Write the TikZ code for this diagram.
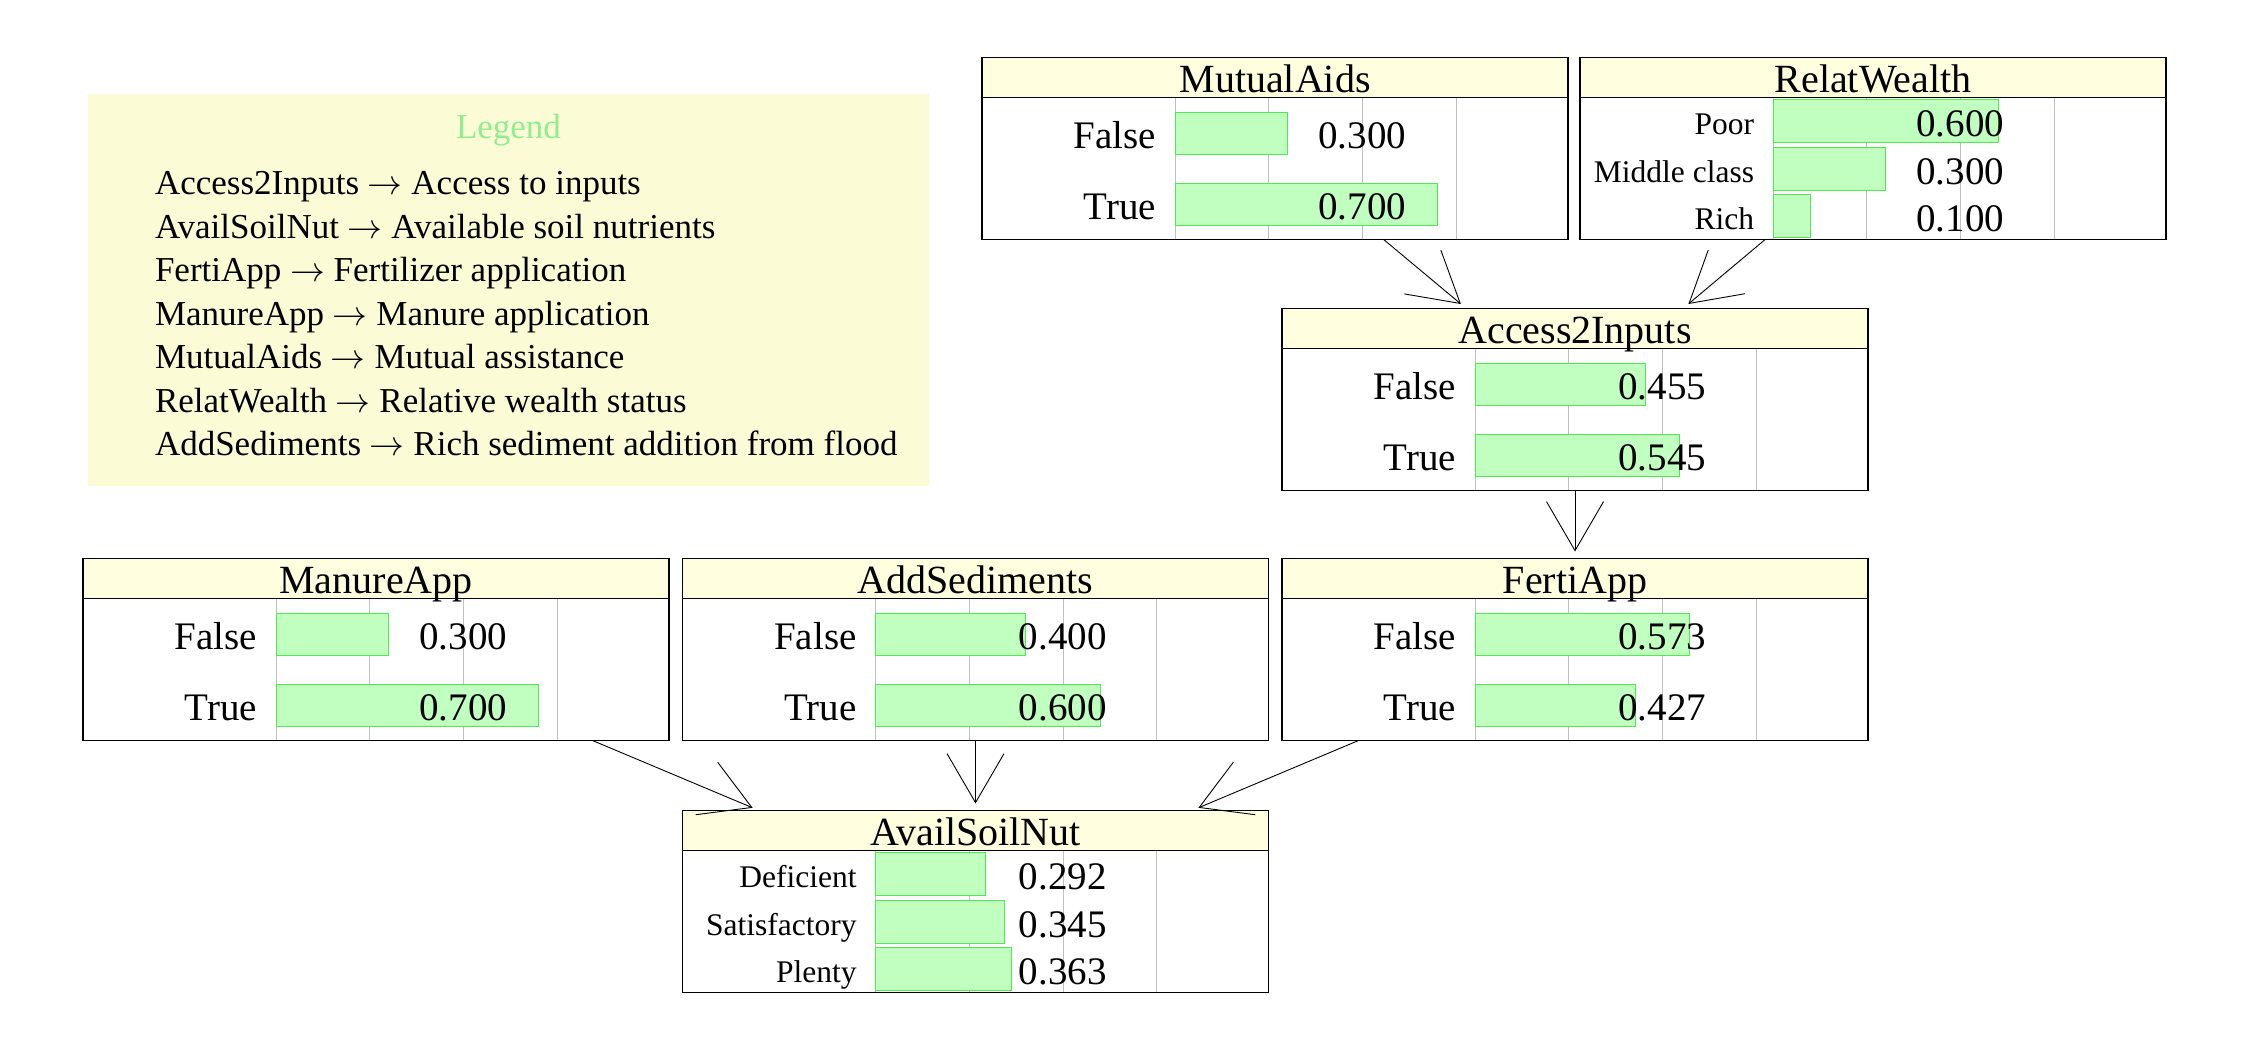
\documentclass[tikz,border=0pt]{standalone}
\usepackage{fontspec}
\usepackage{graphicx}
\setmainfont{Liberation Serif}
\usetikzlibrary{arrows.meta}
\definecolor{headfill}{RGB}{255,255,224}
\definecolor{legfill}{RGB}{251,251,214}
\definecolor{legtitle}{RGB}{144,238,144}
\definecolor{barfill}{RGB}{192,255,192}
\definecolor{barline}{RGB}{80,235,80}
\definecolor{gridc}{RGB}{192,192,192}
\newcommand{\legarrow}{\scalebox{1.4}{\fontsize{24.88}{24.88}\selectfont$\rightarrow$}}
\tikzset{
  every node/.style={inner sep=0pt, outer sep=0pt},
  boxshape/.style={rectangle, minimum width=586pt, minimum height=182pt},
  headbg/.style={fill=headfill},
  gridline/.style={draw=gridc, line width=1pt},
  boxline/.style={draw=black, line width=1.3pt},
  barbox/.style={fill=barfill, draw=barline, line width=1pt},
  titletext/.style={anchor=base, font=\fontsize{40}{40}\selectfont},
  bigtext/.style={anchor=base east, font=\fontsize{39}{39}\selectfont},
  smalltext/.style={anchor=base east, font=\fontsize{31.5}{31.5}\selectfont},
  valtext/.style={anchor=base east, font=\fontsize{39}{39}\selectfont},
  legtext/.style={anchor=base west, font=\fontsize{35}{35}\selectfont},
  conn/.style={line width=0.9pt, -{Straight Barb[length=49pt,width=57pt]}, shorten >=7pt}
}
% #1 name, #2 left, #3 top, #4 title
\newcommand{\bnframe}[4]{%
  \node[boxshape] (#1) at (#2+293,#3+91) {};
  \fill[white] (#2,#3) rectangle (#2+586,#3+182);
  \fill[headbg] (#2,#3) rectangle (#2+586,#3+40);
  \foreach \k in {0,1,2,3} {\draw[gridline] (#2+193+93.75*\k,#3+40) -- (#2+193+93.75*\k,#3+182);}
  \node[titletext] at (#2+293,#3+34.5) {#4};
}
\newcommand{\bnborder}[2]{%
  \draw[boxline] (#1,#2) rectangle (#1+586,#2+182);
  \draw[boxline] (#1,#2+40) -- (#1+586,#2+40);
}
% #1 left, #2 center y, #3 value, #4 label, #5 label style, #6 label baseline offset, #7 half height
\newcommand{\bnbar}[7]{%
  \draw[barbox] (#1+193,#2-#7) rectangle (#1+193+375*#3,#2+#7);
  \node[#5] at (#1+174,#2+#6) {#4};
  \node[valtext] at (#1+424,#2+15.5) {#3};
}
\newcommand{\twostate}[7]{%
  \bnframe{#1}{#2}{#3}{#4}%
  \bnbar{#2}{#3+75.5}{#6}{#5}{bigtext}{15.5}{21}%
  \twostatecont{#1}{#2}{#3}{#7}}
\newcommand{\twostatecont}[4]{%
  \bnbar{#2}{#3+146.5}{#4}{True}{bigtext}{15.5}{21}%
  \bnborder{#2}{#3}}
\begin{document}
\begin{tikzpicture}[x=1pt,y=-1pt]
\useasboundingbox (0,0) rectangle (2250,1050);
\fill[white] (0,0) rectangle (2250,1050);

% Legend
\node[fill=legfill, minimum width=841pt, minimum height=392pt, anchor=north west] (legend) at (88,94) {};
\node[anchor=base, text=legtitle, font=\fontsize{35}{35}\selectfont] (legtitle) at (508.5,138.2) {Legend};
\node[legtext] (l1) at (155,194.8) {Access2Inputs \legarrow{} Access to inputs};
\node[legtext] (l2) at (155,238.3) {AvailSoilNut \legarrow{} Available soil nutrients};
\node[legtext] (l3) at (155,281.8) {FertiApp \legarrow{} Fertilizer application};
\node[legtext] (l4) at (155,325.2) {ManureApp \legarrow{} Manure application};
\node[legtext] (l5) at (155,368.7) {MutualAids \legarrow{} Mutual assistance};
\node[legtext] (l6) at (155,412.1) {RelatWealth \legarrow{} Relative wealth status};
\node[legtext] (l7) at (155,455.6) {AddSediments \legarrow{} Rich sediment addition from flood};

% Two-state nodes
\twostate{MutualAids}{982}{57.5}{MutualAids}{False}{0.300}{0.700}
\twostate{Access2Inputs}{1282}{308.5}{Access2Inputs}{False}{0.455}{0.545}
\twostate{ManureApp}{83}{558.5}{ManureApp}{False}{0.300}{0.700}
\twostate{AddSediments}{682.5}{558.5}{AddSediments}{False}{0.400}{0.600}
\twostate{FertiApp}{1282}{558.5}{FertiApp}{False}{0.573}{0.427}

% RelatWealth
\bnframe{RelatWealth}{1580}{57.5}{RelatWealth}
\bnbar{1580}{121.2}{0.600}{Poor}{smalltext}{13.5}{21.5}
\bnbar{1580}{168.5}{0.300}{Middle class}{smalltext}{13.5}{21.5}
\bnbar{1580}{215.8}{0.100}{Rich}{smalltext}{13.5}{21.5}
\bnborder{1580}{57.5}

% AvailSoilNut
\bnframe{AvailSoilNut}{682.5}{810.5}{AvailSoilNut}
\bnbar{682.5}{874.2}{0.292}{Deficient}{smalltext}{13.5}{21.5}
\bnbar{682.5}{921.5}{0.345}{Satisfactory}{smalltext}{13.5}{21.5}
\bnbar{682.5}{968.8}{0.363}{Plenty}{smalltext}{13.5}{21.5}
\bnborder{682.5}{810.5}

% Connectors
\draw[conn] (MutualAids) -- (Access2Inputs);
\draw[conn] (RelatWealth) -- (Access2Inputs);
\draw[conn] (Access2Inputs) -- (FertiApp);
\draw[conn] (ManureApp) -- (AvailSoilNut);
\draw[conn] (AddSediments) -- (AvailSoilNut);
\draw[conn] (FertiApp) -- (AvailSoilNut);
\end{tikzpicture}
\end{document}
